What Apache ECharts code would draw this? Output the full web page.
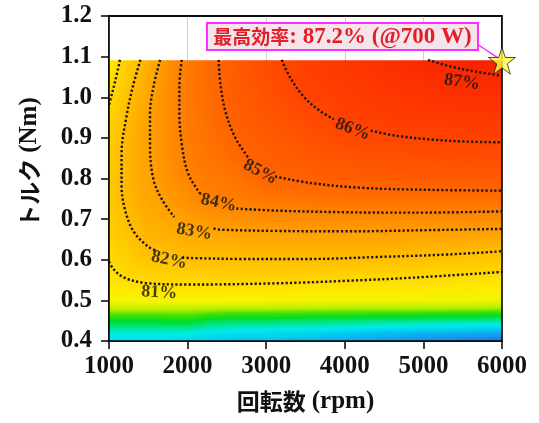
<!DOCTYPE html>
<html><head><meta charset="utf-8">
<script src="https://cdn.jsdelivr.net/npm/echarts/dist/echarts.min.js"></script>
<style>html,body{margin:0;padding:0;background:#fff}#c{width:539px;height:423px}</style>
</head><body><div id="c"></div>
<script>
// ---- axes ----
const xMin = 1000, xMax = 6000, xStep = 1000;
const yMin = 0.4, yMax = 1.2, yStep = 0.1;

// ---- efficiency map (%), rows = torque (Nm), columns = speed (rpm) ----
const gridX = [1000, 1125, 1250, 1375, 1500, 1750, 2000, 2250, 2500, 2750, 3000, 3500, 4000, 4500, 5000, 5500, 6000];
const gridY = [0.40, 0.42, 0.44, 0.46, 0.48, 0.50, 0.525, 0.55, 0.60, 0.65, 0.70, 0.75, 0.80, 0.85, 0.90, 0.95, 1.00, 1.05, 1.09];
const eff = [
  [76.4, 76.4, 76.4, 76.4, 76.4, 76.35, 76.2, 76.0, 75.9, 75.8, 75.8, 75.6, 75.4, 75.1, 74.8, 74.6, 74.4],
  [76.9, 76.9, 76.9, 76.9, 76.9, 76.9, 76.8, 76.6, 76.5, 76.4, 76.4, 76.2, 76.0, 75.8, 75.6, 75.5, 75.4],
  [77.9, 77.9, 77.9, 77.9, 77.9, 77.95, 78.0, 77.6, 77.5, 77.4, 77.4, 77.3, 77.2, 77.0, 76.9, 76.8, 76.7],
  [78.7, 78.7, 78.7, 78.7, 78.7, 78.75, 78.8, 78.6, 78.5, 78.5, 78.5, 78.4, 78.4, 78.35, 78.3, 78.25, 78.2],
  [79.45, 79.45, 79.45, 79.45, 79.45, 79.45, 79.4, 79.4, 79.35, 79.35, 79.35, 79.35, 79.3, 79.3, 79.3, 79.3, 79.25],
  [80.0, 80.05, 80.05, 80.05, 80.1, 80.1, 80.1, 80.1, 80.05, 80.05, 80.05, 80.0, 80.0, 80.0, 79.95, 79.95, 79.9],
  [80.35, 80.45, 80.55, 80.6, 80.65, 80.7, 80.7, 80.7, 80.7, 80.7, 80.7, 80.65, 80.6, 80.55, 80.5, 80.45, 80.4],
  [80.65, 80.85, 81.0, 81.05, 81.1, 81.12, 81.15, 81.17, 81.17, 81.18, 81.18, 81.15, 81.03, 80.98, 80.93, 80.85, 80.75],
  [81.0, 81.2, 81.35, 81.6, 81.75, 81.75, 81.92, 81.95, 81.98, 82.0, 82.0, 82.0, 81.97, 81.9, 81.8, 81.7, 81.6],
  [81.3, 81.5, 81.7, 82.0, 82.2, 82.27, 82.48, 82.51, 82.55, 82.6, 82.65, 82.68, 82.7, 82.68, 82.63, 82.6, 82.55],
  [81.45, 81.7, 82.0, 82.3, 82.5, 82.73, 83.02, 83.22, 83.37, 83.5, 83.58, 83.6, 83.6, 83.6, 83.6, 83.6, 83.55],
  [81.55, 81.85, 82.15, 82.5, 82.7, 83.15, 83.44, 83.95, 84.05, 84.18, 84.3, 84.44, 84.55, 84.56, 84.58, 84.6, 84.6],
  [81.6, 81.92, 82.27, 82.6, 82.85, 83.38, 83.87, 84.18, 84.3, 84.56, 84.92, 85.06, 85.15, 85.17, 85.22, 85.25, 85.25],
  [81.55, 81.9, 82.27, 82.62, 82.92, 83.5, 84.05, 84.35, 84.6, 84.97, 85.1, 85.28, 85.48, 85.55, 85.62, 85.65, 85.68],
  [81.4, 81.8, 82.2, 82.6, 82.93, 83.58, 84.13, 84.49, 84.86, 85.07, 85.2, 85.52, 85.8, 85.92, 86.02, 86.05, 86.07],
  [81.2, 81.65, 82.1, 82.5, 82.88, 83.62, 84.17, 84.58, 84.98, 85.2, 85.4, 85.78, 86.1, 86.23, 86.35, 86.4, 86.4],
  [80.95, 81.45, 81.9, 82.35, 82.75, 83.6, 84.19, 84.65, 85.06, 85.3, 85.54, 86.01, 86.22, 86.4, 86.55, 86.68, 86.7],
  [80.75, 81.2, 81.65, 82.15, 82.6, 83.5, 84.2, 84.66, 85.1, 85.38, 85.67, 86.12, 86.35, 86.55, 86.75, 86.92, 86.98],
  [80.6, 80.95, 81.4, 81.95, 82.45, 83.4, 84.17, 84.69, 85.13, 85.44, 85.76, 86.18, 86.43, 86.7, 86.97, 87.12, 87.2]
];

// ---- colour scale (efficiency -> colour) ----
const colorVals = [74.3, 75.2, 76.0, 76.7, 77.5, 78.3, 78.8, 79.4, 80.0, 80.6, 81.0, 82.0, 83.0, 84.0, 85.0, 86.0, 87.0, 87.3];
const colorHex  = ['#286ee1', '#14a0eb', '#00cdf0', '#00ebeb', '#00e696', '#00dc28', '#3ce100', '#bef000', '#f5f500', '#ffe800', '#ffda00', '#ffbc00', '#ff9e00', '#ff8000', '#ff6200', '#ff4400', '#fa2800', '#f51e05'];

// ---- contour lines (each split where its label sits) ----
const contour81 = [
  [[1140, 1.092], [1083, 1.043], [1018, 0.994], [1000, 0.980]],
  [[1000, 0.596], [1061, 0.576], [1193, 0.556], [1456, 0.543], [2026, 0.539], [3123, 0.542], [4000, 0.548], [4877, 0.556], [6000, 0.570]]
];
const contour82 = [
  [[1400, 1.092], [1303, 1.026], [1215, 0.945], [1160, 0.863], [1160, 0.781], [1215, 0.715], [1325, 0.666], [1500, 0.632], [1610, 0.622]],
  [[1930, 0.605], [2070, 0.604], [2684, 0.602], [3561, 0.602], [4439, 0.607], [5316, 0.613], [6000, 0.621]]
];
const contour83 = [
  [[1650, 1.092], [1566, 1.026], [1522, 0.961], [1522, 0.879], [1566, 0.797], [1675, 0.748], [1830, 0.705]],
  [[2330, 0.677], [2421, 0.674], [3123, 0.671], [4000, 0.670], [5097, 0.673], [6000, 0.676]]
];
const contour84 = [
  [[1925, 1.092], [1895, 1.026], [1895, 0.961], [1930, 0.879], [2004, 0.814], [2136, 0.769], [2180, 0.760]],
  [[2620, 0.726], [3123, 0.721], [4000, 0.717], [4877, 0.716], [6000, 0.719]]
];
const contour85 = [
  [[2395, 1.092], [2421, 1.026], [2487, 0.961], [2597, 0.904], [2728, 0.863], [2770, 0.852]],
  [[3113, 0.805], [3561, 0.789], [4219, 0.777], [5097, 0.772], [6000, 0.770]]
];
const contour86 = [
  [[3199, 1.092], [3298, 1.051], [3474, 1.002], [3693, 0.965], [3860, 0.946]],
  [[4330, 0.918], [4658, 0.905], [5097, 0.896], [5535, 0.891], [6000, 0.889]]
];
const contour87 = [
  [[5060, 1.092], [5316, 1.077], [5667, 1.063], [6000, 1.053]]
];
const contours = [contour81, contour82, contour83, contour84, contour85, contour86, contour87];

const contourLabels   = ['81%', '82%', '83%', '84%', '85%', '86%', '87%'];
const contourLabelPos = [[1640, 0.519], [1765, 0.599], [2085, 0.669], [2395, 0.740], [2925, 0.816], [4100, 0.921], [5490, 1.037]];
const contourLabelRot = [-3, -12, -10, -12, -28, -20, -8];

// ---- peak marker ----
const peakPoint = [6000, 1.09];
const peakLabelCjk = '最高効率';
const peakLabelRest = ': 87.2% (@700 W)';

// ---- axis names ----
const xName = ['回転数', '(rpm)'];
const yName = ['トルク', '(Nm)'];

// ---------------------------------------------------------------
const colorRgb = colorHex.map(h => [parseInt(h.slice(1, 3), 16), parseInt(h.slice(3, 5), 16), parseInt(h.slice(5, 7), 16)]);
function colorAt(v) {
  let c;
  if (v <= colorVals[0]) c = colorRgb[0];
  else if (v >= colorVals[colorVals.length - 1]) c = colorRgb[colorRgb.length - 1];
  else {
    for (let k = 1; k < colorVals.length; k++) {
      if (v <= colorVals[k]) {
        const t = (v - colorVals[k - 1]) / (colorVals[k] - colorVals[k - 1]);
        const a = colorRgb[k - 1], b = colorRgb[k];
        c = [a[0] + (b[0] - a[0]) * t, a[1] + (b[1] - a[1]) * t, a[2] + (b[2] - a[2]) * t];
        break;
      }
    }
  }
  return 'rgb(' + Math.round(c[0]) + ',' + Math.round(c[1]) + ',' + Math.round(c[2]) + ')';
}

const cellData = [];
for (let j = 0; j < gridY.length - 1; j++) {
  for (let i = 0; i < gridX.length - 1; i++) {
    cellData.push([(gridX[i] + gridX[i + 1]) / 2, (gridY[j] + gridY[j + 1]) / 2, i, j]);
  }
}

function renderCell(params, api) {
  const i = api.value(2), j = api.value(3);
  const pBL = api.coord([gridX[i], gridY[j]]);
  const pTR = api.coord([gridX[i + 1], gridY[j + 1]]);
  const x0 = pBL[0], x1 = pTR[0], yB = pBL[1], yT = pTR[1];
  const W = x1 - x0, H = yB - yT;
  const v00 = eff[j][i], v10 = eff[j][i + 1], v01 = eff[j + 1][i], v11 = eff[j + 1][i + 1];
  const b = ((v10 - v00) + (v11 - v01)) / 2;
  const c = ((v01 - v00) + (v11 - v10)) / 2;
  const vc = (v00 + v10 + v01 + v11) / 4;
  const gx = b / W, gy = -c / H;
  const g2 = gx * gx + gy * gy;
  const cx = (x0 + x1) / 2, cy = (yT + yB) / 2;
  let fill;
  if (g2 < 1e-12) {
    fill = colorAt(vc);
  } else {
    const half = Math.abs(b) / 2 + Math.abs(c) / 2;
    const vmin = vc - half, vmax = vc + half;
    const sx = cx + gx * (vmin - vc) / g2, sy = cy + gy * (vmin - vc) / g2;
    const ex = cx + gx * (vmax - vc) / g2, ey = cy + gy * (vmax - vc) / g2;
    const stops = [];
    for (let k = 0; k <= 6; k++) {
      const t = k / 6;
      stops.push({ offset: t, color: colorAt(vmin + (vmax - vmin) * t) });
    }
    fill = new echarts.graphic.LinearGradient(sx, sy, ex, ey, stops, true);
  }
  return {
    type: 'rect',
    shape: { x: x0 - 0.5, y: yT - 0.5, width: W + 1, height: H + 1 },
    style: { fill: fill }
  };
}

const serif = 'Liberation Serif';
const cjk = 'Noto Sans CJK JP';

const lineSeries = [];
contours.forEach(parts => {
  parts.forEach(seg => {
    lineSeries.push({
      type: 'line', data: seg, smooth: 0.35, showSymbol: false, symbol: 'none',
      silent: true, z: 4, animation: false,
      lineStyle: { color: '#151515', width: 2.4, type: [2.2, 2.2], cap: 'butt' }
    });
  });
});

const chart = echarts.init(document.getElementById('c'), null, { renderer: 'canvas' });
const axisNameRich = {
  j: { fontFamily: cjk, fontWeight: 'bold', fontSize: 23, color: '#111' },
  s: { fontFamily: serif, fontWeight: 'bold', fontSize: 25, color: '#111', padding: [0, 0, 0, 6] }
};
chart.setOption({
  animation: false,
  backgroundColor: '#fff',
  grid: { left: 109, right: 37, top: 16, bottom: 82, show: true, borderColor: '#000', borderWidth: 1.5 },
  xAxis: [{
    type: 'value', min: xMin, max: xMax, interval: xStep, z: 6,
    axisLine: { show: true, onZero: false, lineStyle: { color: '#000', width: 1.5 } },
    axisTick: { show: true, length: 8, lineStyle: { color: '#000', width: 1.5 } },
    axisLabel: { color: '#111', fontFamily: serif, fontWeight: 'bold', fontSize: 25, margin: 13, formatter: v => String(v) },
    splitLine: { show: false },
    name: '{j|' + xName[0] + '}{s|' + xName[1] + '}', nameLocation: 'middle', nameGap: 48,
    nameTextStyle: { rich: axisNameRich }
  }, {
    type: 'value', min: xMin, max: xMax, interval: xStep, position: 'top', z: 0,
    axisLine: { show: true, onZero: false, lineStyle: { color: '#000', width: 1.5 } },
    axisTick: { show: false }, axisLabel: { show: false },
    splitLine: { show: true, lineStyle: { color: '#d0d0d0', width: 1 } }
  }],
  yAxis: [{
    type: 'value', min: yMin, max: yMax, interval: yStep, z: 6,
    axisLine: { show: true, onZero: false, lineStyle: { color: '#000', width: 1.5 } },
    axisTick: { show: true, length: 8, lineStyle: { color: '#000', width: 1.5 } },
    axisLabel: { color: '#111', fontFamily: serif, fontWeight: 'bold', fontSize: 25, margin: 17, formatter: v => v.toFixed(1) },
    splitLine: { show: false },
    name: '{j|' + yName[0] + '}{s|' + yName[1] + '}', nameLocation: 'middle', nameGap: 67,
    nameTextStyle: { rich: axisNameRich, padding: [0, 0, 0, 32] }
  }, {
    type: 'value', min: yMin, max: yMax, position: 'right', z: 6,
    axisLine: { show: true, onZero: false, lineStyle: { color: '#000', width: 1.5 } },
    axisTick: { show: false }, axisLabel: { show: false }, splitLine: { show: false }
  }],
  series: [{
    type: 'custom', coordinateSystem: 'cartesian2d', data: cellData,
    encode: { x: 0, y: 1 }, renderItem: renderCell, silent: true, z: 1, clip: true
  }].concat(lineSeries).concat([{
    type: 'scatter', silent: true, z: 5, symbolSize: 1,
    itemStyle: { color: 'rgba(0,0,0,0)' },
    data: contourLabelPos.map((p, k) => ({ value: p, name: contourLabels[k], label: { rotate: contourLabelRot[k] } })),
    label: { show: true, position: 'inside', formatter: '{b}', fontFamily: serif, fontWeight: 'bold', fontSize: 18, color: '#151515' }
  }, {
    type: 'scatter', silent: true, z: 10, clip: false,
    symbol: 'path://M50,0 L61.8,35.4 L99,35.4 L69,57.3 L80.4,92.7 L50,70.8 L19.6,92.7 L31,57.3 L1,35.4 L38.2,35.4 Z',
    symbolSize: 27,
    itemStyle: { color: '#ffff3a', borderColor: '#222', borderWidth: 1 },
    data: [peakPoint]
  }])
});

const starPx = chart.convertToPixel({ gridIndex: 0 }, peakPoint);
chart.setOption({
  graphic: [
    { type: 'line', z: 8, shape: { x1: 477, y1: 44, x2: starPx[0], y2: starPx[1] }, style: { stroke: '#ff2cff', lineWidth: 1.5 } },
    { type: 'rect', z: 20, shape: { x: 207, y: 23, width: 271, height: 27 }, style: { fill: '#f4e4ec', stroke: '#ff2cff', lineWidth: 2 } },
    { type: 'text', z: 21, style: {
        x: 342.5, y: 37, align: 'center', verticalAlign: 'middle',
        text: '{a|' + peakLabelCjk + '}{b|' + peakLabelRest + '}',
        rich: {
          a: { fontFamily: cjk, fontWeight: 'bold', fontSize: 19, fill: '#e41e26' },
          b: { fontFamily: serif, fontWeight: 'bold', fontSize: 23, fill: '#e41e26' }
        }
      } }
  ]
});
</script>
</body></html>
